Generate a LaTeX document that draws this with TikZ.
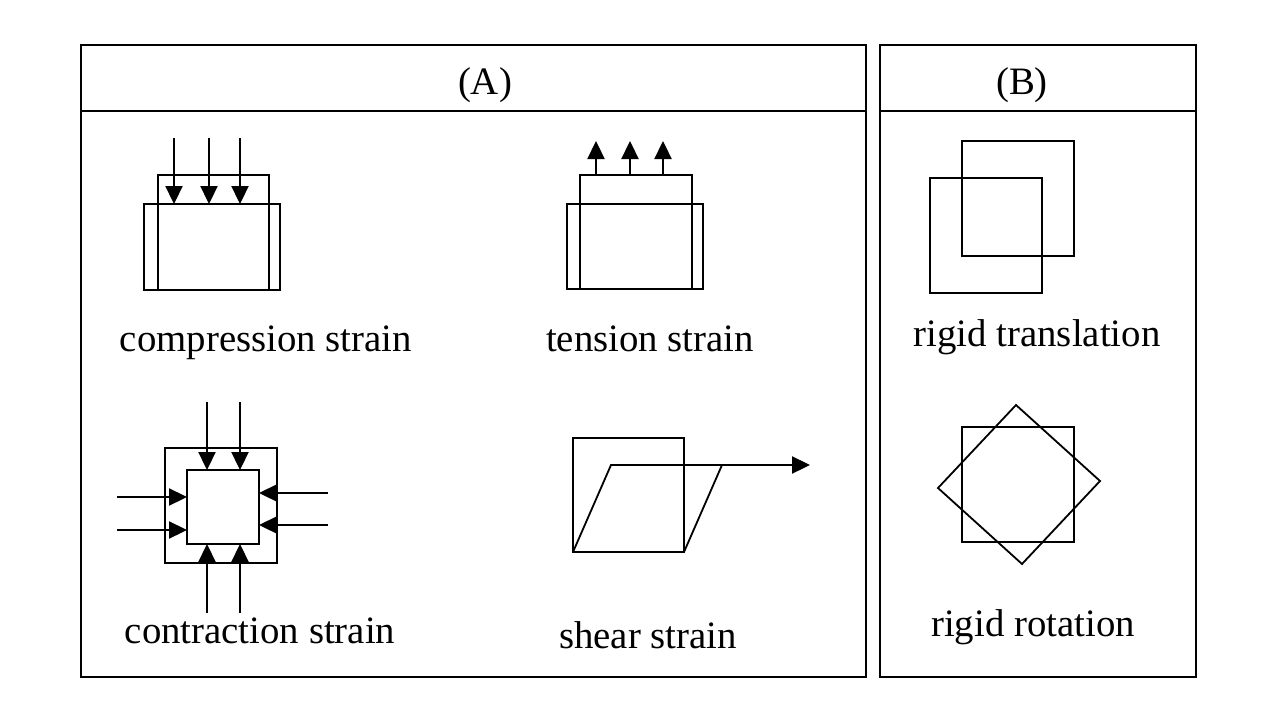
\documentclass[tikz,border=0pt]{standalone}
\usepackage{fontspec}
\setmainfont{Liberation Serif}
\usetikzlibrary{arrows.meta}
\begin{document}
\begin{tikzpicture}[x=1pt,y=-1pt,
  frame/.style={line width=1.8pt},
  fig/.style={line width=2.3pt},
  thin fig/.style={line width=1.8pt},
  force/.style={line width=2.3pt,-{Triangle[width=17pt,length=18pt]}},
  lbl/.style={font=\fontsize{38.8}{46}\selectfont,anchor=base,inner sep=0pt}]
\useasboundingbox (0,0) rectangle (1280,720);
% frames
\draw[frame] (81,45) rectangle (866,677);
\draw[frame] (81,111) -- (866,111);
\draw[frame] (880,45) rectangle (1196,677);
\draw[frame] (880,111) -- (1196,111);
\node[lbl] (titleA) at (485,94) {(A)};
\node[lbl] (titleB) at (1022,94) {(B)};
% compression
\draw[fig] (144,204) rectangle (280,290);
\draw[fig] (158,290) -- (158,175) -- (269,175) -- (269,290);
\foreach \x in {174,209,240} \draw[force] (\x,138) -- (\x,204);
\node[lbl] (comp) at (266,351) {compression strain};
% tension
\draw[fig] (567,204) rectangle (703,289);
\draw[fig] (580,289) -- (580,175) -- (692,175) -- (692,289);
\foreach \x in {596,630,663} \draw[force] (\x,175) -- (\x,141);
\node[lbl] (tens) at (650,351) {tension strain};
% contraction
\draw[fig] (165,448) rectangle (277,563);
\draw[fig] (187,470) rectangle (259,544);
\foreach \x in {207,240} {\draw[force] (\x,402) -- (\x,470); \draw[force] (\x,613) -- (\x,544);}
\foreach \y in {497,530} \draw[force] (117,\y) -- (187,\y);
\foreach \y in {493,525} \draw[force] (328,\y) -- (259,\y);
\node[lbl] (contr) at (260,643) {contraction strain};
% shear
\draw[fig] (573,438) rectangle (684,552);
\draw[thin fig] (573,552) -- (611,465) -- (722,465) -- (684,552);
\draw[force] (722,465) -- (810,465);
\node[lbl] (shear) at (648,648) {shear strain};
% rigid translation
\draw[fig] (930,178) rectangle (1042,293);
\draw[fig] (962,141) rectangle (1074,256);
\node[lbl] (trans) at (1037,346) {rigid translation};
% rigid rotation
\draw[fig] (962,427) rectangle (1074,542);
\draw[thin fig] (1016,405) -- (1100,481) -- (1022,564) -- (938,488) -- cycle;
\node[lbl] (rot) at (1033,636) {rigid rotation};
\end{tikzpicture}
\end{document}
